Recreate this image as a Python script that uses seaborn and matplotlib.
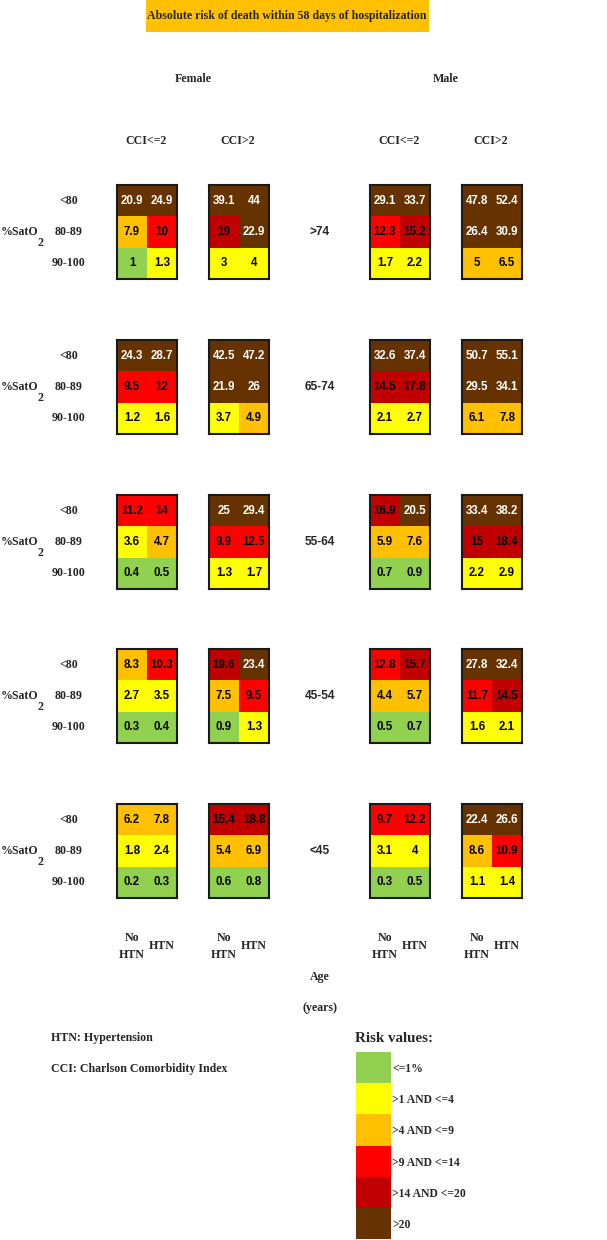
import numpy as np
import matplotlib.pyplot as plt
import seaborn as sns
from matplotlib.colors import ListedColormap
from matplotlib.patches import Rectangle

# age groups shown top to bottom
age_groups = [">74", "65-74", "55-64", "45-54", "<45"]
sat_levels = ["<80", "80-89", "90-100"]
htn_labels = ["No HTN", "HTN"]

# each block: rows = %SatO2 (<80, 80-89, 90-100), columns = (No HTN, HTN)
female_cci_low = [
    [[20.9, 24.9], [7.9, 10], [1, 1.3]],
    [[24.3, 28.7], [9.5, 12], [1.2, 1.6]],
    [[11.2, 14], [3.6, 4.7], [0.4, 0.5]],
    [[8.3, 10.3], [2.7, 3.5], [0.3, 0.4]],
    [[6.2, 7.8], [1.8, 2.4], [0.2, 0.3]],
]
female_cci_high = [
    [[39.1, 44], [19, 22.9], [3, 4]],
    [[42.5, 47.2], [21.9, 26], [3.7, 4.9]],
    [[25, 29.4], [9.9, 12.5], [1.3, 1.7]],
    [[19.6, 23.4], [7.5, 9.5], [0.9, 1.3]],
    [[15.4, 18.8], [5.4, 6.9], [0.6, 0.8]],
]
male_cci_low = [
    [[29.1, 33.7], [12.3, 15.2], [1.7, 2.2]],
    [[32.6, 37.4], [14.5, 17.8], [2.1, 2.7]],
    [[16.9, 20.5], [5.9, 7.6], [0.7, 0.9]],
    [[12.8, 15.7], [4.4, 5.7], [0.5, 0.7]],
    [[9.7, 12.2], [3.1, 4], [0.3, 0.5]],
]
male_cci_high = [
    [[47.8, 52.4], [26.4, 30.9], [5, 6.5]],
    [[50.7, 55.1], [29.5, 34.1], [6.1, 7.8]],
    [[33.4, 38.2], [15, 18.4], [2.2, 2.9]],
    [[27.8, 32.4], [11.7, 14.5], [1.6, 2.1]],
    [[22.4, 26.6], [8.6, 10.9], [1.1, 1.4]],
]

risk_bounds = [1, 4, 9, 14, 20]
risk_colors = ["#92D050", "#FFFF00", "#FFC000", "#FF0000", "#C00000", "#663300"]
risk_labels = ["<=1%", ">1 AND <=4", ">4 AND <=9", ">9 AND <=14", ">14 AND <=20", ">20"]

sns.set_style("white")
plt.rcParams['font.family'] = ['Liberation Serif', 'DejaVu Serif']
cmap = ListedColormap(risk_colors)

W, H = 607, 1240
fig = plt.figure(figsize=(W / 100, H / 100), dpi=100)


def fx(x):
    return x / W


def fy(y):
    return 1 - y / H


def txt(x, y, s, size=8.6, ha="center", family=None, **kw):
    fam = family if family else ['Liberation Serif', 'DejaVu Serif']
    fig.text(fx(x), fy(y), s, ha=ha, va="center", fontsize=size,
             fontweight="bold", family=fam, **kw)


def draw_block(values, left, top, w=60, h=94):
    vals = np.array(values, dtype=float)
    cls = np.digitize(vals, risk_bounds, right=True)
    labels = np.array([[f"{v:g}" for v in row] for row in vals])
    ax = fig.add_axes([fx(left), fy(top + h), w / W, h / H])
    sns.heatmap(cls, ax=ax, cmap=cmap, vmin=-0.5, vmax=5.5, annot=labels, fmt="",
                cbar=False, xticklabels=False, yticklabels=False,
                annot_kws=dict(fontsize=8.3, fontweight="bold",
                               family=['Liberation Sans Narrow', 'Liberation Sans']))
    # white numbers only on the darkest class
    for t, c in zip(ax.texts, cls.flatten()):
        t.set_color("white" if c == 5 else "black")
    for s in ax.spines.values():
        s.set_visible(True)
        s.set_linewidth(1.5)
        s.set_color("#1a1a1a")


# title box
fig.patches.append(Rectangle((fx(146), fy(32)), 283 / W, 32 / H, transform=fig.transFigure,
                             facecolor="#FFC000", edgecolor="none"))
txt(287, 16, "Absolute risk of death within 58 days of hospitalization", size=8.6)

txt(193, 79, "Female")
txt(446, 79, "Male")

lefts = [117, 209, 370, 462]
tops = [185, 340, 495, 649, 804]
cci_names = ["CCI<=2", "CCI>2", "CCI<=2", "CCI>2"]
for left, name in zip(lefts, cci_names):
    txt(left + 29, 141, name)

blocks = [female_cci_low, female_cci_high, male_cci_low, male_cci_high]
for i, top in enumerate(tops):
    for left, block in zip(lefts, blocks):
        draw_block(block[i], left, top)
    for j, lab in enumerate(sat_levels):
        txt(69, top + 15.7 + j * 31.3, lab)
    txt(1, top + 47, "%SatO", ha="left")
    txt(37, top + 58, "2", ha="left")
    txt(320, top + 47, age_groups[i], family=['Liberation Sans', 'DejaVu Sans'])

for left in lefts:
    txt(left + 15, 938, "No")
    txt(left + 15, 955, "HTN")
    txt(left + 45, 946, "HTN")

txt(320, 977, "Age")
txt(320, 1008, "(years)")
txt(51, 1038, "HTN: Hypertension", ha="left")
txt(51, 1069, "CCI: Charlson Comorbidity Index", ha="left")
txt(355, 1038, "Risk values:", size=10.8, ha="left")

# legend as a one-column heatmap
lax = fig.add_axes([fx(356), fy(1239), 35 / W, 187 / H])
sns.heatmap(np.arange(6).reshape(6, 1), ax=lax, cmap=cmap, vmin=-0.5, vmax=5.5,
            cbar=False, xticklabels=False, yticklabels=risk_labels)
lax.yaxis.tick_right()
lax.tick_params(axis="y", length=0, pad=1)
for lab in lax.get_yticklabels():
    lab.set_rotation(0)
    lab.set_fontsize(8.4)
    lab.set_fontweight("bold")

fig.savefig("out.png", dpi=100)
